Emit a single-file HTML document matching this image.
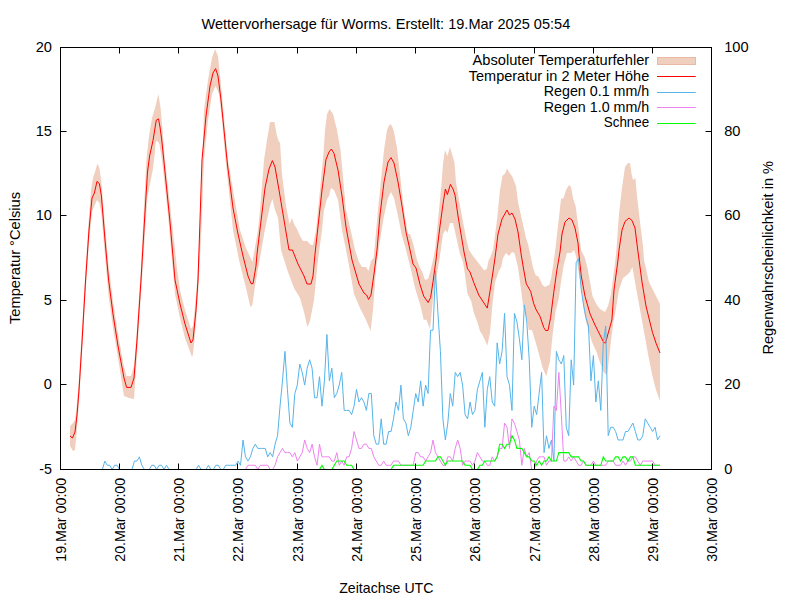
<!DOCTYPE html>
<html><head><meta charset="utf-8"><title>Wettervorhersage Worms</title>
<style>html,body{margin:0;padding:0;background:#fff}svg{display:block}text{font-family:"Liberation Sans",sans-serif;font-size:14.5px;fill:#000}</style>
</head><body>
<svg width="800" height="600" viewBox="0 0 800 600">
<rect x="0" y="0" width="800" height="600" fill="#ffffff"/>
<defs><clipPath id="pa"><rect x="60.5" y="47.5" width="651.0" height="421.5"/></clipPath></defs>
<text x="201.50" y="28.50" textLength="368.75" lengthAdjust="spacingAndGlyphs">Wettervorhersage für Worms. Erstellt: 19.Mar 2025 05:54</text>
<text x="339.25" y="593.30" textLength="94.15" lengthAdjust="spacingAndGlyphs">Zeitachse UTC</text>
<text transform="translate(19.50,324.00) rotate(-90)" textLength="132.00" lengthAdjust="spacingAndGlyphs">Temperatur °Celsius</text>
<text transform="translate(772.70,354.50) rotate(-90)" textLength="193.50" lengthAdjust="spacingAndGlyphs">Regenwahrscheinlichkeit in %</text>
<g clip-path="url(#pa)">
<polygon points="70.00,426.00 73.00,423.00 75.00,420.00 77.00,403.00 79.00,378.00 82.00,328.00 85.60,268.00 89.00,216.00 91.00,190.00 93.00,178.00 95.00,172.00 97.40,163.60 99.40,168.00 101.40,182.00 105.00,225.00 108.60,266.00 113.00,301.00 118.00,334.00 124.00,367.00 126.60,376.00 129.00,376.00 131.00,376.00 134.00,366.00 137.00,328.00 141.00,266.00 146.40,160.00 149.00,136.00 152.00,118.00 155.00,108.00 158.40,94.00 160.60,108.00 163.00,136.00 165.00,160.00 170.00,205.00 177.00,268.00 180.00,290.00 185.00,310.00 191.00,329.00 193.00,326.00 196.00,296.00 198.00,266.00 201.00,200.00 204.00,110.00 208.00,80.00 212.00,58.00 215.00,49.00 218.00,56.00 220.00,76.00 223.00,106.00 228.00,160.00 233.00,190.00 240.00,230.00 246.00,248.00 252.40,262.00 258.00,230.00 260.00,210.00 264.00,160.00 267.00,140.00 270.00,122.00 274.40,122.00 277.00,136.00 279.00,142.00 280.00,142.00 282.00,174.00 286.00,206.00 289.60,224.00 292.00,218.00 294.00,224.00 297.00,229.00 300.00,236.00 303.00,241.00 307.00,241.00 311.00,245.00 313.00,245.00 316.00,230.00 320.00,190.00 323.50,153.00 325.00,130.00 327.00,114.00 329.60,109.00 333.00,114.00 337.00,130.00 340.50,150.00 346.00,210.00 352.00,236.00 355.00,250.00 359.00,262.00 362.00,267.00 366.00,267.00 368.60,271.00 371.00,261.00 373.60,258.00 376.00,232.00 378.00,210.00 382.00,170.00 384.00,150.00 387.00,130.00 389.00,125.50 390.40,124.20 392.00,126.00 394.00,132.00 397.00,148.00 400.00,174.00 404.00,210.00 408.00,234.00 410.00,234.00 413.00,243.00 417.00,260.00 420.00,267.50 422.50,272.50 425.00,280.00 428.10,278.75 430.00,272.50 433.00,260.00 435.00,250.00 438.00,220.00 441.00,190.00 443.00,164.00 445.00,150.00 447.40,156.00 450.00,147.00 452.00,154.00 454.40,162.00 456.00,182.00 459.00,200.00 463.00,222.00 467.00,242.00 469.00,250.00 473.00,256.00 476.25,260.00 480.00,265.00 484.40,270.60 486.90,268.75 488.75,260.00 490.00,258.00 493.00,250.00 497.00,220.00 500.00,190.00 502.40,176.00 505.00,173.60 507.00,168.60 509.60,173.00 512.00,176.00 516.00,186.00 518.00,202.00 522.00,220.00 526.00,238.00 528.00,244.00 530.00,253.00 533.00,267.50 535.60,275.00 538.75,276.90 542.50,285.00 545.00,286.90 547.50,285.60 549.40,285.00 551.25,277.50 553.75,261.25 555.00,252.00 558.00,226.00 561.00,199.00 563.60,198.00 566.00,190.00 569.00,185.00 571.00,187.00 573.00,198.00 575.60,206.00 578.00,224.00 581.00,250.00 585.00,258.00 587.50,268.00 590.00,282.00 592.50,296.00 596.25,304.00 600.00,309.00 605.00,312.00 608.00,306.00 611.00,294.00 616.00,255.00 619.00,214.00 622.00,188.00 625.00,167.00 628.00,163.00 630.00,163.00 631.60,174.00 633.00,180.00 635.40,178.00 637.00,196.00 640.00,222.00 643.00,246.00 644.00,260.00 649.00,282.00 653.00,290.00 657.00,298.00 660.00,304.00 660.00,401.00 656.00,390.00 652.00,374.00 648.00,354.00 643.00,326.00 639.00,304.00 635.00,282.00 632.40,267.00 630.00,272.00 627.00,275.00 623.00,278.00 619.00,290.00 615.00,314.00 613.75,320.00 611.25,338.75 608.00,367.50 606.90,375.00 603.75,372.50 600.00,362.50 596.25,351.25 592.00,342.00 586.00,322.00 584.00,312.00 582.00,293.00 576.00,256.00 574.00,250.00 571.00,253.00 567.00,253.00 563.75,265.00 561.25,280.00 558.75,298.75 555.60,311.25 552.50,336.00 550.00,361.25 546.25,376.25 542.50,367.50 537.50,348.75 532.00,330.00 528.75,330.00 527.00,320.00 523.00,305.00 520.60,286.25 518.00,267.50 515.00,255.00 514.40,253.00 512.00,252.00 509.00,256.00 506.00,253.00 503.00,258.00 501.25,267.00 498.75,271.25 495.00,282.50 492.50,303.75 490.00,333.00 487.40,345.50 482.50,335.00 480.00,331.25 477.50,322.50 473.75,312.50 471.25,301.25 467.50,293.75 465.00,275.00 463.00,262.00 460.00,254.00 456.00,236.00 453.00,223.00 450.00,223.00 447.40,233.00 445.40,230.00 443.00,234.00 439.40,260.00 434.00,290.00 430.00,328.75 426.25,319.40 423.75,320.00 420.00,304.00 415.00,288.00 411.00,270.00 406.00,250.00 402.00,236.00 398.00,216.00 394.00,198.00 391.00,192.00 388.00,198.00 384.00,216.00 380.00,240.00 376.00,270.00 373.00,310.00 370.60,331.00 366.00,320.00 360.00,308.00 354.00,294.00 348.00,260.00 342.00,230.00 340.00,215.00 338.00,200.00 334.00,190.00 331.00,188.00 329.00,196.00 327.00,199.00 324.00,210.00 322.00,230.00 318.00,260.00 314.00,300.00 310.00,321.00 307.40,327.00 304.00,312.00 300.00,298.00 294.00,288.00 288.00,272.00 281.00,250.00 280.00,240.00 278.00,218.00 275.00,210.00 272.40,199.00 270.00,206.00 265.00,229.00 260.00,258.00 255.00,286.00 252.40,305.00 250.40,307.00 246.00,288.00 239.00,260.00 233.00,230.00 225.60,160.00 222.00,120.00 219.00,94.00 215.60,86.00 212.00,94.00 208.00,120.00 204.00,160.00 201.00,240.00 198.00,296.00 196.00,324.00 193.00,354.00 192.00,357.00 185.00,338.00 180.00,318.00 175.00,294.00 168.00,215.00 162.00,160.00 159.40,144.00 157.40,141.00 155.75,141.50 154.60,155.00 152.75,170.00 149.75,185.00 147.50,196.00 145.00,234.00 141.00,295.00 137.00,355.00 134.00,399.00 129.00,398.00 124.00,396.00 118.00,358.00 113.00,328.00 108.60,296.00 105.00,256.00 101.40,214.00 99.40,203.00 97.00,200.00 94.40,206.00 92.00,212.00 89.00,243.00 85.60,293.00 82.00,355.00 79.00,403.00 77.00,428.00 75.00,450.00 73.00,451.00 70.00,446.00" fill="#f0cfbe" stroke="none"/>
<polyline points="70.00,436.00 72.40,438.00 75.00,432.00 77.00,415.00 79.00,390.00 82.00,342.00 85.60,280.00 89.00,230.00 92.00,198.00 94.40,193.00 97.00,181.40 99.40,183.60 101.40,196.00 105.00,240.00 108.60,280.00 113.00,314.00 118.00,346.00 124.00,378.00 126.60,387.40 131.00,387.40 134.00,378.00 137.00,340.00 141.00,280.00 145.00,212.00 147.50,172.00 149.60,156.00 153.00,140.50 156.25,120.20 158.50,118.80 160.00,127.00 161.75,140.00 164.00,162.00 170.00,222.00 175.00,280.00 180.00,304.00 185.00,324.00 191.00,343.00 193.00,340.00 196.00,310.00 198.00,280.00 202.00,160.00 206.00,116.00 210.00,86.00 213.00,73.00 215.60,68.60 218.00,76.00 221.00,100.00 224.00,130.00 227.50,165.00 233.00,208.00 238.00,234.00 243.00,256.00 248.00,276.00 251.00,283.60 253.00,283.60 256.00,266.00 257.00,254.00 261.00,221.00 265.00,188.00 269.00,169.00 272.40,160.60 275.00,167.00 279.00,190.00 284.00,220.00 289.00,250.00 292.40,250.00 298.00,264.00 304.00,276.00 307.00,284.00 311.00,284.00 313.00,276.00 315.00,254.00 318.50,222.00 322.00,190.00 326.00,159.50 329.00,152.00 331.40,149.00 334.00,153.50 338.00,170.00 342.00,196.00 346.00,227.00 352.00,260.00 359.00,284.00 364.00,293.00 366.60,295.00 368.60,299.40 371.00,295.00 374.00,274.00 377.00,250.00 380.00,215.00 384.00,182.00 388.00,162.00 391.00,157.60 394.00,163.00 398.00,182.00 402.00,206.00 406.00,232.00 410.00,250.00 413.00,264.00 416.00,268.00 420.00,284.50 423.75,296.25 428.10,302.50 430.60,297.50 433.10,281.25 436.25,258.00 437.00,250.00 440.00,226.00 443.00,204.00 445.40,189.00 447.40,194.60 450.40,184.40 453.00,189.00 455.00,195.00 458.00,216.00 461.00,234.00 464.00,252.00 467.50,268.75 470.00,272.00 473.75,282.50 478.75,295.00 487.25,308.10 490.00,291.25 492.50,275.00 495.00,258.00 498.00,234.00 502.00,219.00 507.00,210.00 509.40,215.00 512.00,213.00 515.00,219.00 518.00,232.00 521.25,255.00 523.75,270.00 526.25,283.75 530.60,291.25 533.75,303.75 536.25,310.00 540.00,316.25 543.75,327.50 545.60,330.50 548.00,330.50 550.60,317.50 553.75,292.50 556.90,270.00 560.00,252.00 562.00,234.00 565.00,222.00 569.00,218.00 572.00,220.00 575.00,228.00 578.00,243.00 579.00,255.00 581.25,276.00 585.00,296.25 590.00,313.75 595.00,325.00 597.50,330.00 603.75,342.50 605.60,343.00 608.00,333.75 611.90,320.00 614.00,290.00 618.00,260.00 619.00,250.00 622.00,230.00 625.00,221.50 629.00,218.00 632.00,220.50 635.00,228.00 638.00,252.00 642.00,282.00 646.00,306.00 649.40,320.00 652.50,332.50 656.25,343.75 660.00,353.00" fill="none" stroke="#ff0000" stroke-width="1" stroke-linejoin="miter" stroke-miterlimit="10"/>
<polyline points="70.27,469.50 72.74,469.50 75.21,469.50 77.67,469.50 80.14,469.50 82.61,469.50 85.08,469.50 87.54,469.50 90.01,469.50 92.48,469.50 94.95,469.50 97.41,469.50 99.88,469.50 102.35,469.50 104.82,461.06 107.28,465.28 109.75,465.28 112.22,469.50 114.69,465.28 117.15,465.28 119.62,469.50 122.09,469.50 124.56,469.50 127.03,469.50 129.49,469.50 131.96,469.50 134.43,461.06 136.90,461.06 139.36,456.84 141.83,465.28 144.30,469.50 146.77,469.50 149.23,469.50 151.70,465.28 154.17,465.28 156.64,469.50 159.10,465.28 161.57,465.28 164.04,469.50 166.51,465.28 168.97,469.50 171.44,469.50 173.91,469.50 176.38,469.50 178.84,469.50 181.31,469.50 183.78,469.50 186.25,469.50 188.72,469.50 191.18,469.50 193.65,469.50 196.12,469.50 198.59,465.28 201.05,469.50 203.52,469.50 205.99,469.50 208.46,465.28 210.92,469.50 213.39,469.50 215.86,465.28 218.33,465.28 220.79,469.50 223.26,469.50 225.73,465.28 228.20,465.28 230.66,465.28 233.13,465.28 235.60,465.28 238.07,461.06 240.53,465.28 243.00,439.96 245.47,456.84 247.94,461.06 250.41,456.84 252.87,448.40 255.34,444.18 257.81,448.40 260.28,448.40 262.74,448.40 265.21,448.40 267.68,456.84 270.15,452.62 272.61,456.84 275.08,444.18 277.55,435.74 280.02,406.20 282.48,380.88 284.95,351.34 287.42,389.32 289.89,423.08 292.35,427.30 294.82,393.54 297.29,385.10 299.76,364.00 302.22,372.44 304.69,385.10 307.16,368.22 309.63,359.78 312.10,368.22 314.56,397.76 317.03,397.76 319.50,376.66 321.97,406.20 324.43,380.88 326.90,334.46 329.37,380.88 331.84,368.22 334.30,397.76 336.77,393.54 339.24,385.10 341.71,372.44 344.17,410.42 346.64,410.42 349.11,410.42 351.58,414.64 354.04,406.20 356.51,389.32 358.98,401.98 361.45,397.76 363.91,401.98 366.38,410.42 368.85,393.54 371.32,393.54 373.79,435.74 376.25,444.18 378.72,444.18 381.19,418.86 383.66,444.18 386.12,444.18 388.59,431.52 391.06,431.52 393.53,418.86 395.99,401.98 398.46,410.42 400.93,385.10 403.40,418.86 405.86,423.08 408.33,435.74 410.80,427.30 413.27,410.42 415.73,393.54 418.20,401.98 420.67,380.88 423.14,406.20 425.60,385.10 428.07,393.54 430.54,330.24 433.01,330.24 435.48,271.16 437.94,313.36 440.41,351.34 442.88,418.86 445.35,439.96 447.81,423.08 450.28,393.54 452.75,406.20 455.22,372.44 457.68,376.66 460.15,372.44 462.62,385.10 465.09,414.64 467.55,418.86 470.02,401.98 472.49,414.64 474.96,410.42 477.42,389.32 479.89,380.88 482.36,372.44 484.83,427.30 487.29,389.32 489.76,376.66 492.23,401.98 494.70,406.20 497.17,342.90 499.63,364.00 502.10,351.34 504.57,313.36 507.04,376.66 509.50,385.10 511.97,410.42 514.44,313.36 516.91,321.80 519.37,338.68 521.84,359.78 524.31,304.92 526.78,321.80 529.24,359.78 531.71,427.30 534.18,406.20 536.65,414.64 539.11,393.54 541.58,372.44 544.05,452.62 546.52,435.74 548.98,448.40 551.45,439.96 553.92,461.06 556.39,351.34 558.86,359.78 561.32,364.00 563.79,355.56 566.26,427.30 568.73,435.74 571.19,359.78 573.66,385.10 576.13,262.72 578.60,258.50 581.06,288.04 583.53,304.92 586.00,317.58 588.47,326.02 590.93,380.88 593.40,355.56 595.87,401.98 598.34,380.88 600.80,410.42 603.27,342.90 605.74,326.02 608.21,435.74 610.67,427.30 613.14,427.30 615.61,431.52 618.08,439.96 620.55,439.96 623.01,439.96 625.48,431.52 627.95,431.52 630.42,427.30 632.88,423.08 635.35,431.52 637.82,439.96 640.29,439.96 642.75,435.74 645.22,418.86 647.69,423.08 650.16,427.30 652.62,431.52 655.09,427.30 657.56,439.96 660.03,435.74" fill="none" stroke="#56b4e9" stroke-width="1" stroke-linejoin="miter" stroke-miterlimit="10"/>
<polyline points="70.27,469.50 72.74,469.50 75.21,469.50 77.67,469.50 80.14,469.50 82.61,469.50 85.08,469.50 87.54,469.50 90.01,469.50 92.48,469.50 94.95,469.50 97.41,469.50 99.88,469.50 102.35,469.50 104.82,469.50 107.28,469.50 109.75,469.50 112.22,469.50 114.69,469.50 117.15,469.50 119.62,469.50 122.09,469.50 124.56,469.50 127.03,469.50 129.49,469.50 131.96,469.50 134.43,469.50 136.90,469.50 139.36,469.50 141.83,469.50 144.30,469.50 146.77,469.50 149.23,469.50 151.70,469.50 154.17,469.50 156.64,469.50 159.10,469.50 161.57,469.50 164.04,469.50 166.51,469.50 168.97,469.50 171.44,469.50 173.91,469.50 176.38,469.50 178.84,469.50 181.31,469.50 183.78,469.50 186.25,469.50 188.72,469.50 191.18,469.50 193.65,469.50 196.12,469.50 198.59,469.50 201.05,469.50 203.52,469.50 205.99,469.50 208.46,469.50 210.92,469.50 213.39,469.50 215.86,469.50 218.33,469.50 220.79,469.50 223.26,469.50 225.73,469.50 228.20,469.50 230.66,469.50 233.13,469.50 235.60,469.50 238.07,469.50 240.53,469.50 243.00,469.50 245.47,469.50 247.94,465.28 250.41,465.28 252.87,465.28 255.34,465.28 257.81,469.50 260.28,465.28 262.74,465.28 265.21,465.28 267.68,465.28 270.15,469.50 272.61,469.50 275.08,465.28 277.55,456.84 280.02,452.62 282.48,448.40 284.95,452.62 287.42,452.62 289.89,452.62 292.35,456.84 294.82,452.62 297.29,461.06 299.76,456.84 302.22,452.62 304.69,439.96 307.16,448.40 309.63,452.62 312.10,444.18 314.56,456.84 317.03,465.28 319.50,444.18 321.97,456.84 324.43,456.84 326.90,456.84 329.37,456.84 331.84,461.06 334.30,461.06 336.77,452.62 339.24,465.28 341.71,461.06 344.17,465.28 346.64,456.84 349.11,456.84 351.58,448.40 354.04,431.52 356.51,439.96 358.98,448.40 361.45,448.40 363.91,444.18 366.38,444.18 368.85,448.40 371.32,448.40 373.79,456.84 376.25,461.06 378.72,465.28 381.19,465.28 383.66,461.06 386.12,465.28 388.59,465.28 391.06,465.28 393.53,461.06 395.99,461.06 398.46,461.06 400.93,465.28 403.40,465.28 405.86,465.28 408.33,465.28 410.80,465.28 413.27,465.28 415.73,452.62 418.20,452.62 420.67,456.84 423.14,456.84 425.60,461.06 428.07,456.84 430.54,452.62 433.01,439.96 435.48,452.62 437.94,456.84 440.41,461.06 442.88,465.28 445.35,465.28 447.81,456.84 450.28,456.84 452.75,461.06 455.22,448.40 457.68,439.96 460.15,448.40 462.62,465.28 465.09,461.06 467.55,461.06 470.02,461.06 472.49,465.28 474.96,461.06 477.42,452.62 479.89,456.84 482.36,461.06 484.83,461.06 487.29,465.28 489.76,465.28 492.23,456.84 494.70,461.06 497.17,456.84 499.63,448.40 502.10,448.40 504.57,423.08 507.04,427.30 509.50,448.40 511.97,418.86 514.44,423.08 516.91,431.52 519.37,439.96 521.84,465.28 524.31,448.40 526.78,456.84 529.24,452.62 531.71,469.50 534.18,469.50 536.65,461.06 539.11,456.84 541.58,456.84 544.05,456.84 546.52,465.28 548.98,461.06 551.45,461.06 553.92,406.20 556.39,410.42 558.86,372.44 561.32,414.64 563.79,461.06 566.26,461.06 568.73,456.84 571.19,461.06 573.66,456.84 576.13,461.06 578.60,465.28 581.06,465.28 583.53,461.06 586.00,465.28 588.47,465.28 590.93,465.28 593.40,461.06 595.87,465.28 598.34,465.28 600.80,465.28 603.27,465.28 605.74,465.28 608.21,461.06 610.67,461.06 613.14,461.06 615.61,465.28 618.08,465.28 620.55,465.28 623.01,461.06 625.48,465.28 627.95,461.06 630.42,461.06 632.88,456.84 635.35,456.84 637.82,461.06 640.29,465.28 642.75,461.06 645.22,461.06 647.69,461.06 650.16,461.06 652.62,461.06 655.09,465.28 657.56,465.28 660.03,465.28" fill="none" stroke="#ee82ee" stroke-width="1" stroke-linejoin="miter" stroke-miterlimit="10"/>
<polyline points="70.27,469.50 72.74,469.50 75.21,469.50 77.67,469.50 80.14,469.50 82.61,469.50 85.08,469.50 87.54,469.50 90.01,469.50 92.48,469.50 94.95,469.50 97.41,469.50 99.88,469.50 102.35,469.50 104.82,469.50 107.28,469.50 109.75,469.50 112.22,469.50 114.69,469.50 117.15,469.50 119.62,469.50 122.09,469.50 124.56,469.50 127.03,469.50 129.49,469.50 131.96,469.50 134.43,469.50 136.90,469.50 139.36,469.50 141.83,469.50 144.30,469.50 146.77,469.50 149.23,469.50 151.70,469.50 154.17,469.50 156.64,469.50 159.10,469.50 161.57,469.50 164.04,469.50 166.51,469.50 168.97,469.50 171.44,469.50 173.91,469.50 176.38,469.50 178.84,469.50 181.31,469.50 183.78,469.50 186.25,469.50 188.72,469.50 191.18,469.50 193.65,469.50 196.12,469.50 198.59,469.50 201.05,469.50 203.52,469.50 205.99,469.50 208.46,469.50 210.92,469.50 213.39,469.50 215.86,469.50 218.33,469.50 220.79,469.50 223.26,469.50 225.73,469.50 228.20,469.50 230.66,469.50 233.13,469.50 235.60,469.50 238.07,469.50 240.53,469.50 243.00,469.50 245.47,469.50 247.94,469.50 250.41,469.50 252.87,469.50 255.34,469.50 257.81,469.50 260.28,469.50 262.74,469.50 265.21,469.50 267.68,469.50 270.15,469.50 272.61,469.50 275.08,469.50 277.55,469.50 280.02,469.50 282.48,469.50 284.95,469.50 287.42,469.50 289.89,469.50 292.35,469.50 294.82,469.50 297.29,469.50 299.76,469.50 302.22,469.50 304.69,469.50 307.16,469.50 309.63,469.50 312.10,469.50 314.56,469.50 317.03,469.50 319.50,469.50 321.97,465.28 324.43,469.50 326.90,469.50 329.37,469.50 331.84,469.50 334.30,465.28 336.77,461.06 339.24,461.06 341.71,461.06 344.17,461.06 346.64,465.28 349.11,465.28 351.58,465.28 354.04,469.50 356.51,469.50 358.98,469.50 361.45,469.50 363.91,469.50 366.38,469.50 368.85,469.50 371.32,469.50 373.79,469.50 376.25,469.50 378.72,469.50 381.19,469.50 383.66,469.50 386.12,469.50 388.59,469.50 391.06,469.50 393.53,465.28 395.99,465.28 398.46,465.28 400.93,465.28 403.40,465.28 405.86,465.28 408.33,465.28 410.80,465.28 413.27,465.28 415.73,465.28 418.20,465.28 420.67,465.28 423.14,465.28 425.60,461.06 428.07,461.06 430.54,461.06 433.01,461.06 435.48,461.06 437.94,456.84 440.41,456.84 442.88,461.06 445.35,465.28 447.81,461.06 450.28,461.06 452.75,461.06 455.22,461.06 457.68,461.06 460.15,461.06 462.62,461.06 465.09,465.28 467.55,465.28 470.02,465.28 472.49,469.50 474.96,469.50 477.42,469.50 479.89,465.28 482.36,465.28 484.83,461.06 487.29,461.06 489.76,461.06 492.23,461.06 494.70,461.06 497.17,456.84 499.63,444.18 502.10,444.18 504.57,448.40 507.04,444.18 509.50,444.18 511.97,435.74 514.44,439.96 516.91,448.40 519.37,448.40 521.84,448.40 524.31,452.62 526.78,456.84 529.24,456.84 531.71,461.06 534.18,461.06 536.65,465.28 539.11,461.06 541.58,465.28 544.05,461.06 546.52,461.06 548.98,456.84 551.45,461.06 553.92,461.06 556.39,461.06 558.86,452.62 561.32,452.62 563.79,452.62 566.26,452.62 568.73,452.62 571.19,456.84 573.66,456.84 576.13,456.84 578.60,456.84 581.06,461.06 583.53,461.06 586.00,465.28 588.47,465.28 590.93,465.28 593.40,465.28 595.87,465.28 598.34,465.28 600.80,465.28 603.27,456.84 605.74,461.06 608.21,461.06 610.67,461.06 613.14,461.06 615.61,456.84 618.08,456.84 620.55,461.06 623.01,456.84 625.48,456.84 627.95,461.06 630.42,456.84 632.88,456.84 635.35,465.28 637.82,465.28 640.29,465.28 642.75,465.28 645.22,465.28 647.69,465.28 650.16,465.28 652.62,465.28 655.09,465.28 657.56,465.28 660.03,465.28" fill="none" stroke="#00ff00" stroke-width="1.1" stroke-linejoin="miter" stroke-miterlimit="10"/>
</g>
<text x="472.50" y="65.00" textLength="176.75" lengthAdjust="spacingAndGlyphs">Absoluter Temperaturfehler</text>
<rect x="657.5" y="57.5" width="38" height="7" fill="#f0cfbe" stroke="#e8b9a3" stroke-width="1"/>
<text x="468.75" y="80.50" textLength="180.50" lengthAdjust="spacingAndGlyphs">Temperatur in 2 Meter Höhe</text>
<line x1="657" y1="76.50" x2="695.7" y2="76.50" stroke="#ff0000" stroke-width="1"/>
<text x="543.75" y="96.00" textLength="105.50" lengthAdjust="spacingAndGlyphs">Regen 0.1 mm/h</text>
<line x1="657" y1="92.50" x2="695.7" y2="92.50" stroke="#56b4e9" stroke-width="1"/>
<text x="543.75" y="111.50" textLength="105.50" lengthAdjust="spacingAndGlyphs">Regen 1.0 mm/h</text>
<line x1="657" y1="107.50" x2="695.7" y2="107.50" stroke="#ee82ee" stroke-width="1"/>
<text x="603.75" y="127.00" textLength="45.50" lengthAdjust="spacingAndGlyphs">Schnee</text>
<line x1="657" y1="123.50" x2="695.7" y2="123.50" stroke="#00ff00" stroke-width="1.1"/>
<g stroke="#000" stroke-width="1" fill="none">
<rect x="60.5" y="47.5" width="651.0" height="422.0"/>
<line x1="119.5" y1="469.5" x2="119.5" y2="463.5"/>
<line x1="119.5" y1="47.5" x2="119.5" y2="53.5"/>
<line x1="178.5" y1="469.5" x2="178.5" y2="463.5"/>
<line x1="178.5" y1="47.5" x2="178.5" y2="53.5"/>
<line x1="237.5" y1="469.5" x2="237.5" y2="463.5"/>
<line x1="237.5" y1="47.5" x2="237.5" y2="53.5"/>
<line x1="297.5" y1="469.5" x2="297.5" y2="463.5"/>
<line x1="297.5" y1="47.5" x2="297.5" y2="53.5"/>
<line x1="356.5" y1="469.5" x2="356.5" y2="463.5"/>
<line x1="356.5" y1="47.5" x2="356.5" y2="53.5"/>
<line x1="415.5" y1="469.5" x2="415.5" y2="463.5"/>
<line x1="415.5" y1="47.5" x2="415.5" y2="53.5"/>
<line x1="474.5" y1="469.5" x2="474.5" y2="463.5"/>
<line x1="474.5" y1="47.5" x2="474.5" y2="53.5"/>
<line x1="534.5" y1="469.5" x2="534.5" y2="463.5"/>
<line x1="534.5" y1="47.5" x2="534.5" y2="53.5"/>
<line x1="593.5" y1="469.5" x2="593.5" y2="463.5"/>
<line x1="593.5" y1="47.5" x2="593.5" y2="53.5"/>
<line x1="652.5" y1="469.5" x2="652.5" y2="463.5"/>
<line x1="652.5" y1="47.5" x2="652.5" y2="53.5"/>
<line x1="60.5" y1="131.5" x2="66.5" y2="131.5"/>
<line x1="711.5" y1="131.5" x2="705.5" y2="131.5"/>
<line x1="60.5" y1="215.5" x2="66.5" y2="215.5"/>
<line x1="711.5" y1="215.5" x2="705.5" y2="215.5"/>
<line x1="60.5" y1="300.5" x2="66.5" y2="300.5"/>
<line x1="711.5" y1="300.5" x2="705.5" y2="300.5"/>
<line x1="60.5" y1="384.5" x2="66.5" y2="384.5"/>
<line x1="711.5" y1="384.5" x2="705.5" y2="384.5"/>
</g>
<text x="35.72" y="52.40" textLength="16.28" lengthAdjust="spacingAndGlyphs">20</text>
<text x="35.72" y="136.40" textLength="16.28" lengthAdjust="spacingAndGlyphs">15</text>
<text x="35.72" y="220.40" textLength="16.28" lengthAdjust="spacingAndGlyphs">10</text>
<text x="43.86" y="305.40" textLength="8.14" lengthAdjust="spacingAndGlyphs">5</text>
<text x="43.86" y="389.40" textLength="8.14" lengthAdjust="spacingAndGlyphs">0</text>
<text x="39.26" y="474.40" textLength="12.74" lengthAdjust="spacingAndGlyphs">-5</text>
<text x="724.20" y="52.40" textLength="24.42" lengthAdjust="spacingAndGlyphs">100</text>
<text x="724.20" y="136.40" textLength="16.28" lengthAdjust="spacingAndGlyphs">80</text>
<text x="724.20" y="220.40" textLength="16.28" lengthAdjust="spacingAndGlyphs">60</text>
<text x="724.20" y="305.40" textLength="16.28" lengthAdjust="spacingAndGlyphs">40</text>
<text x="724.20" y="389.40" textLength="16.28" lengthAdjust="spacingAndGlyphs">20</text>
<text x="724.20" y="474.40" textLength="8.14" lengthAdjust="spacingAndGlyphs">0</text>
<text transform="translate(65.60,477.80) rotate(-90)" textLength="84.00" lengthAdjust="spacingAndGlyphs" text-anchor="end">19.Mar 00:00</text>
<text transform="translate(124.60,477.80) rotate(-90)" textLength="84.00" lengthAdjust="spacingAndGlyphs" text-anchor="end">20.Mar 00:00</text>
<text transform="translate(183.60,477.80) rotate(-90)" textLength="84.00" lengthAdjust="spacingAndGlyphs" text-anchor="end">21.Mar 00:00</text>
<text transform="translate(242.60,477.80) rotate(-90)" textLength="84.00" lengthAdjust="spacingAndGlyphs" text-anchor="end">22.Mar 00:00</text>
<text transform="translate(302.60,477.80) rotate(-90)" textLength="84.00" lengthAdjust="spacingAndGlyphs" text-anchor="end">23.Mar 00:00</text>
<text transform="translate(361.60,477.80) rotate(-90)" textLength="84.00" lengthAdjust="spacingAndGlyphs" text-anchor="end">24.Mar 00:00</text>
<text transform="translate(420.60,477.80) rotate(-90)" textLength="84.00" lengthAdjust="spacingAndGlyphs" text-anchor="end">25.Mar 00:00</text>
<text transform="translate(479.60,477.80) rotate(-90)" textLength="84.00" lengthAdjust="spacingAndGlyphs" text-anchor="end">26.Mar 00:00</text>
<text transform="translate(539.60,477.80) rotate(-90)" textLength="84.00" lengthAdjust="spacingAndGlyphs" text-anchor="end">27.Mar 00:00</text>
<text transform="translate(598.60,477.80) rotate(-90)" textLength="84.00" lengthAdjust="spacingAndGlyphs" text-anchor="end">28.Mar 00:00</text>
<text transform="translate(657.60,477.80) rotate(-90)" textLength="84.00" lengthAdjust="spacingAndGlyphs" text-anchor="end">29.Mar 00:00</text>
<text transform="translate(716.60,477.80) rotate(-90)" textLength="84.00" lengthAdjust="spacingAndGlyphs" text-anchor="end">30.Mar 00:00</text>
</svg></body></html>
